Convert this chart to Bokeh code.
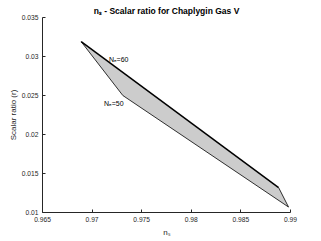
from bokeh.plotting import figure
from bokeh.models import FixedTicker, Range1d, Label
from bokeh.embed import file_html
from bokeh.resources import INLINE

# data
ns_60 = [0.9689, 0.9888]
r_60 = [0.0319, 0.0132]
ns_50 = [0.9689, 0.9731, 0.9898]
r_50 = [0.0319, 0.0250, 0.0107]
x_ticks = [0.965, 0.97, 0.975, 0.98, 0.985, 0.99]
x_tick_labels = ["0.965", "0.97", "0.975", "0.98", "0.985", "0.99"]
y_ticks = [0.01, 0.015, 0.02, 0.025, 0.03, 0.035]
y_tick_labels = ["0.01", "0.015", "0.02", "0.025", "0.03", "0.035"]

FONT = "Liberation Sans"
AX = "#262626"

p = figure(width=321, height=241, output_backend="svg", toolbar_location=None,
           x_range=Range1d(0.965, 0.99), y_range=Range1d(0.01, 0.035),
           min_border_left=42, min_border_right=31, min_border_top=17, min_border_bottom=29,
           title="nₛ - Scalar ratio for Chaplygin Gas V")
p.outline_line_color = None
p.grid.visible = False
p.background_fill_color = "white"

p.title.align = "center"
p.title.text_font = FONT
p.title.text_font_size = "8.5px"
p.title.text_font_style = "bold"
p.title.text_color = "black"
p.title.standoff = 3
p.title.offset = 0

for ax in (p.xaxis[0], p.yaxis[0]):
    ax.axis_line_color = AX
    ax.axis_line_width = 1
    ax.major_tick_line_color = AX
    ax.major_tick_in = 3
    ax.major_tick_out = 0
    ax.minor_tick_line_color = None
    ax.major_label_text_font = FONT
    ax.major_label_text_font_size = "6.7px"
    ax.major_label_text_color = AX
    ax.axis_label_text_font = FONT
    ax.axis_label_text_font_size = "8px"
    ax.axis_label_text_font_style = "normal"
    ax.axis_label_text_color = AX

p.xaxis.ticker = FixedTicker(ticks=x_ticks)
p.xaxis.major_label_overrides = {t: l for t, l in zip(x_ticks, x_tick_labels)}
p.yaxis.ticker = FixedTicker(ticks=y_ticks)
p.yaxis.major_label_overrides = {t: l for t, l in zip(y_ticks, y_tick_labels)}
p.xaxis.major_label_standoff = 4
p.yaxis.major_label_standoff = 4
p.xaxis.axis_label = "nₛ"
p.yaxis.axis_label = "Scalar ratio (r)"
p.xaxis.axis_label_standoff = 3
p.yaxis.axis_label_standoff = 1

# shaded region between curves
poly_x = ns_60 + ns_50[::-1]
poly_y = r_60 + r_50[::-1]
p.patch(poly_x, poly_y, fill_color="#cccccc", line_color=None)
p.line(ns_50, r_50, line_color="black", line_width=0.8)
p.line([ns_60[-1], ns_50[-1]], [r_60[-1], r_50[-1]], line_color="black", line_width=0.8)
p.line(ns_60, r_60, line_color="black", line_width=1.5)

p.add_layout(Label(x=0.9717, y=0.0296, text="Nₑ=60", text_font=FONT,
                   text_font_size="7px", text_color="black",
                   text_baseline="middle"))
p.add_layout(Label(x=0.9712, y=0.0240, text="Nₑ=50", text_font=FONT,
                   text_font_size="7px", text_color="black",
                   text_baseline="middle"))

open("out.html", "w").write(file_html(p, INLINE))
